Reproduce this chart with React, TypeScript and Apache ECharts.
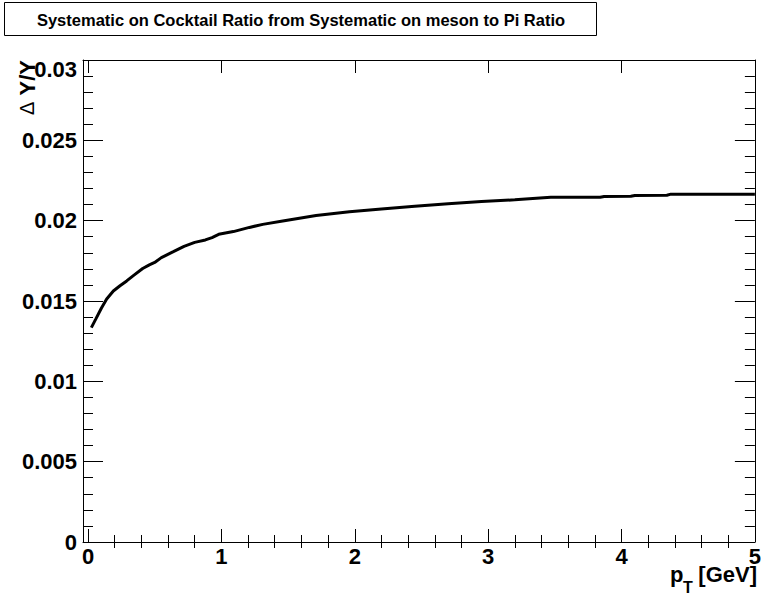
import React, { useEffect, useRef } from "react";
import * as echarts from "echarts";

const TITLE = "Systematic on Cocktail Ratio from Systematic on meson to Pi Ratio";
const X_TITLE_MAIN = "p";
const X_TITLE_SUB = "T";
const X_TITLE_UNIT = "[GeV]";
const Y_TITLE_DELTA = "Δ";
const Y_TITLE_REST = "Y/Y";

const X_MIN = -0.0375;
const X_MAX = 5;
const X_MAJOR = [0, 1, 2, 3, 4, 5];
const X_MINOR = [
  0.2, 0.4, 0.6, 0.8, 1.2, 1.4, 1.6, 1.8, 2.2, 2.4, 2.6, 2.8, 3.2, 3.4, 3.6,
  3.8, 4.2, 4.4, 4.6, 4.8,
];
const Y_MIN = 0;
const Y_MAX = 0.03;
const Y_STEP = 0.005;
const Y_TICK_LABELS = ["0", "0.005", "0.01", "0.015", "0.02", "0.025", "0.03"];

const PT = [
  0.025, 0.06, 0.1, 0.14, 0.19, 0.24, 0.29, 0.34, 0.41, 0.46, 0.5, 0.55, 0.64,
  0.72, 0.8, 0.88, 0.93, 0.98, 1.09, 1.21, 1.31, 1.46, 1.71, 1.96, 2.2, 2.45,
  2.7, 2.95, 3.2, 3.47, 3.84, 3.87, 4.07, 4.1, 4.34, 4.37, 5.0,
];
const DY = [
  0.01334, 0.0139, 0.01455, 0.01512, 0.01562, 0.01595, 0.01625, 0.01658,
  0.01702, 0.01725, 0.0174, 0.0177, 0.01807, 0.0184, 0.01865, 0.0188, 0.01895,
  0.01915, 0.01932, 0.01958, 0.01977, 0.01998, 0.02032, 0.02056, 0.02073,
  0.0209, 0.02106, 0.02119, 0.0213, 0.02145, 0.02146, 0.02151, 0.02152,
  0.02157, 0.02158, 0.02165, 0.02165,
];

const FONT = '"Liberation Sans", Arial, Helvetica, sans-serif';

export default function App() {
  const ref = useRef<HTMLDivElement>(null);
  useEffect(() => {
    if (!ref.current) return;
    const chart = echarts.init(ref.current, null, { renderer: "svg" });
    const axisLine = { show: true, onZero: false, lineStyle: { color: "#000", width: 1 } };
    const xBase = {
      type: "value" as const,
      min: X_MIN,
      max: X_MAX,
      splitLine: { show: false },
    };
    const yBase = {
      type: "value" as const,
      min: Y_MIN,
      max: Y_MAX,
      interval: Y_STEP,
      splitLine: { show: false },
      minorSplitLine: { show: false },
    };
    const data = PT.map((x, i) => [x, DY[i]]);
    chart.setOption({
      animation: false,
      backgroundColor: "#fff",
      grid: { left: 83, top: 60, right: 6, bottom: 54, containLabel: false },
      xAxis: [
        {
          ...xBase,
          position: "bottom",
          axisLine,
          axisTick: { show: true, inside: true, length: 13, customValues: X_MAJOR, lineStyle: { color: "#000" } },
          axisLabel: {
            show: true,
            customValues: X_MAJOR,
            margin: 6,
            fontSize: 22,
            lineHeight: 16,
            fontWeight: "bold",
            fontFamily: FONT,
            color: "#000",
            formatter: (v: number) => String(X_MAJOR[Math.round(v)]),
          },
        },
        {
          ...xBase,
          position: "bottom",
          axisLine: { show: false },
          axisTick: { show: true, inside: true, length: 7, customValues: X_MINOR, lineStyle: { color: "#000" } },
          axisLabel: { show: false },
        },
        {
          ...xBase,
          position: "top",
          axisLine,
          axisTick: { show: true, inside: true, length: 13, customValues: X_MAJOR, lineStyle: { color: "#000" } },
          axisLabel: { show: false },
        },
        {
          ...xBase,
          position: "top",
          axisLine: { show: false },
          axisTick: { show: true, inside: true, length: 6, customValues: X_MINOR, lineStyle: { color: "#000" } },
          axisLabel: { show: false },
        },
      ],
      yAxis: [
        {
          ...yBase,
          position: "left",
          axisLine,
          axisTick: { show: true, inside: true, length: 20, lineStyle: { color: "#000" } },
          minorTick: { show: true, splitNumber: 5, length: 10, lineStyle: { color: "#000" } },
          axisLabel: {
            show: true,
            margin: 6,
            showMinLabel: true,
            showMaxLabel: true,
            fontSize: 22,
            fontWeight: "bold",
            fontFamily: FONT,
            color: "#000",
            formatter: (v: number) => {
              const i = Math.round(v / Y_STEP);
              const s = Y_TICK_LABELS[i] ?? "";
              return i === Y_TICK_LABELS.length - 1 ? `{top|${s}}` : s;
            },
            rich: {
              top: {
                fontSize: 22,
                fontWeight: "bold",
                fontFamily: FONT,
                color: "#000",
                padding: [18, 0, 0, 0],
              },
            },
          },
        },
        {
          ...yBase,
          position: "right",
          axisLine,
          axisTick: { show: true, inside: true, length: 20, lineStyle: { color: "#000" } },
          minorTick: { show: true, splitNumber: 5, length: 10, lineStyle: { color: "#000" } },
          axisLabel: { show: false },
        },
      ],
      series: [
        {
          type: "line",
          xAxisIndex: 0,
          yAxisIndex: 0,
          data,
          showSymbol: false,
          symbol: "none",
          lineStyle: { color: "#000", width: 3 },
          itemStyle: { color: "#000" },
          silent: true,
        },
      ],
      graphic: [
        {
          type: "rect",
          shape: { x: 4.5, y: 2.5, width: 592, height: 33 },
          style: { fill: "#fff", stroke: "#000", lineWidth: 1 },
        },
        {
          type: "text",
          x: 301,
          y: 19.5,
          style: {
            text: TITLE,
            fontSize: 16.5,
            fontWeight: "bold",
            fontFamily: FONT,
            fill: "#000",
            align: "center",
            verticalAlign: "middle",
          },
        },
        {
          type: "text",
          x: 670,
          y: 574,
          style: {
            text: X_TITLE_MAIN,
            fontSize: 22,
            lineHeight: 16,
            fontWeight: "bold",
            fontFamily: FONT,
            fill: "#000",
            align: "left",
            verticalAlign: "middle",
          },
        },
        {
          type: "text",
          x: 683,
          y: 587,
          style: {
            text: X_TITLE_SUB,
            fontSize: 16,
            lineHeight: 12,
            fontWeight: "bold",
            fontFamily: FONT,
            fill: "#000",
            align: "left",
            verticalAlign: "middle",
          },
        },
        {
          type: "text",
          x: 757,
          y: 574,
          style: {
            text: X_TITLE_UNIT,
            fontSize: 22,
            lineHeight: 16,
            fontWeight: "bold",
            fontFamily: FONT,
            fill: "#000",
            align: "right",
            verticalAlign: "middle",
          },
        },
        {
          type: "text",
          x: 27,
          y: 60,
          rotation: Math.PI / 2,
          style: {
            text: `{d|${Y_TITLE_DELTA}} {y|${Y_TITLE_REST}}`,
            fontSize: 22,
            fontWeight: "bold",
            fontFamily: FONT,
            fill: "#000",
            align: "right",
            verticalAlign: "middle",
            rich: {
              d: { fontSize: 20, fontWeight: "normal", fontFamily: FONT, fill: "#000" },
              y: { fontSize: 22, fontWeight: "bold", fontFamily: FONT, fill: "#000" },
            },
          },
        },
      ],
    });
    return () => chart.dispose();
  }, []);
  return (
    <div
      ref={ref}
      style={{ position: "absolute", left: 0, top: 0, width: 764, height: 596, background: "#fff" }}
    />
  );
}
